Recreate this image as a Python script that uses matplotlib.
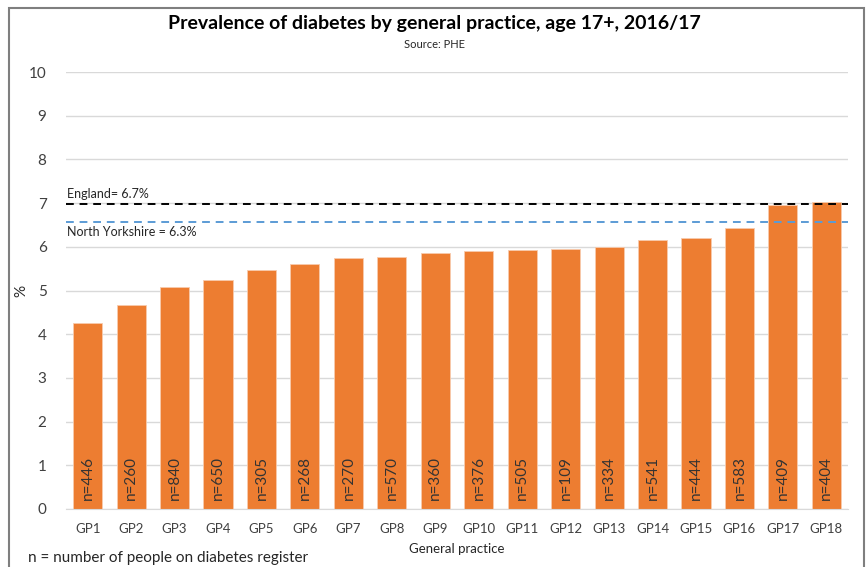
import matplotlib.pyplot as plt
from matplotlib.patches import Rectangle

plt.rcParams['font.family'] = ['Lato', 'DejaVu Sans']

practices = ['GP%d' % i for i in range(1, 19)]
prevalence = [4.26, 4.67, 5.08, 5.24, 5.47, 5.61, 5.74, 5.77, 5.86, 5.90,
              5.93, 5.95, 5.99, 6.16, 6.20, 6.44, 6.96, 7.02]
register_n = [446, 260, 840, 650, 305, 268, 270, 570, 360, 376,
              505, 109, 334, 541, 444, 583, 409, 404]
england_line = 6.97
england_label = 'England= 6.7%'
nyorks_line = 6.57
nyorks_label = 'North Yorkshire = 6.3%'

fig = plt.figure(figsize=(8.68, 5.67), dpi=100)
ax = fig.add_axes([0.076, 0.1023, 0.901, 0.7707])

x = range(len(practices))
ax.bar(x, prevalence, width=0.67, color='#ED7D31', edgecolor='#F8CBAD', linewidth=0.6, zorder=2)
for i, n in enumerate(register_n):
    ax.text(i, 0.2, 'n=%d' % n, rotation=90, ha='center', va='bottom',
            fontsize=11, color='#333333', zorder=3)

ax.axhline(england_line, color='black', linestyle=(0, (4, 3)), linewidth=1.4, zorder=4)
ax.axhline(nyorks_line, color='#5B9BD5', linestyle=(0, (4, 3)), linewidth=1.4, zorder=4)
ax.text(-0.48, england_line + 0.1, england_label, fontsize=9, color='#262626', va='bottom')
ax.text(-0.48, nyorks_line - 0.1, nyorks_label, fontsize=9, color='#262626', va='top')

ax.set_xlim(-0.5, len(practices) - 0.5)
ax.set_ylim(0, 10)
ax.set_yticks(range(0, 11))
ax.set_xticks(list(x))
ax.set_xticklabels(practices)
ax.grid(axis='y', color='#D9D9D9', linewidth=1, zorder=0)
ax.set_axisbelow(True)
for s in ['top', 'right', 'left']:
    ax.spines[s].set_visible(False)
ax.spines['bottom'].set_color('#D9D9D9')
ax.tick_params(axis='both', length=0, colors='#404040', labelsize=11)
ax.tick_params(axis='x', pad=10, labelsize=9.5)
ax.tick_params(axis='y', pad=14)

ax.set_ylabel('%', fontsize=11, color='#262626')
ax.yaxis.set_label_coords(-0.048, 0.5)
ax.set_xlabel('General practice', fontsize=9.5, color='#262626', labelpad=6)

fig.text(0.5, 0.958, 'Prevalence of diabetes by general practice, age 17+, 2016/17',
         ha='center', va='center', fontsize=14, fontweight='bold', color='black')
fig.text(0.5, 0.921, 'Source: PHE', ha='center', va='center', fontsize=8, color='#262626')
fig.text(0.032, 0.016, 'n = number of people on diabetes register', ha='left', va='center',
         fontsize=11, color='#262626')

fig.patches.append(Rectangle((9 / 868, -0.05), (864 - 9) / 868, 1 - 8 / 567 + 0.05,
                             transform=fig.transFigure, fill=False, edgecolor='#7F7F7F',
                             linewidth=1.5))

fig.savefig('out.png', dpi=100)
